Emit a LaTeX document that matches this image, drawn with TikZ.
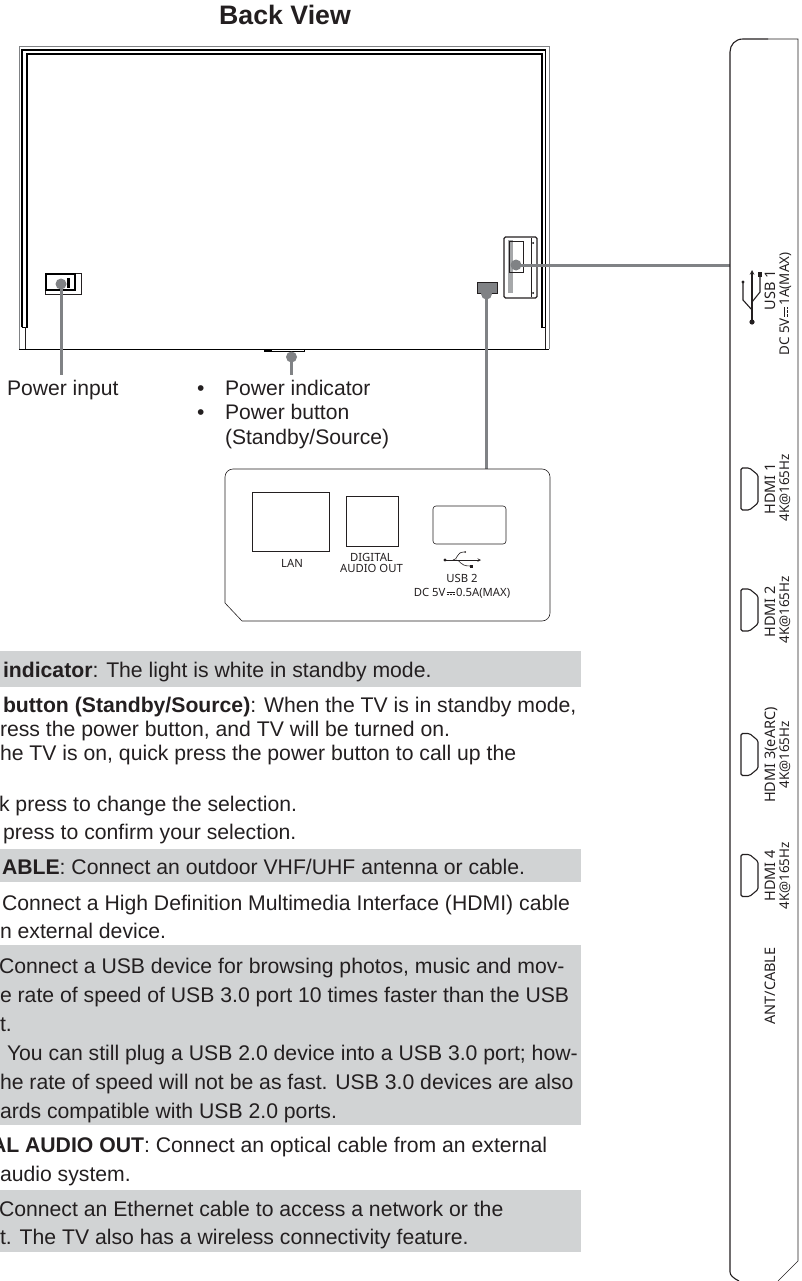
\documentclass[tikz,border=0pt]{standalone}
\usepackage{fontspec}
\setmainfont{Liberation Sans}
\newfontfamily\portfont{Noto Sans}
\definecolor{bandgrey}{HTML}{D1D3D4}
\definecolor{leadergrey}{HTML}{808285}
\definecolor{inkblack}{HTML}{231F20}
\newcommand{\dcsym}{\leavevmode\hspace{.1em}\rlap{\raisebox{.62ex}{\rule{.75em}{.05em}}}\raisebox{.25ex}{\rule{.2em}{.05em}\hspace{.075em}\rule{.2em}{.05em}\hspace{.075em}\rule{.2em}{.05em}}\hspace{.1em}}
\begin{document}
\begin{tikzpicture}[
        x=1pt, y=-1pt,
        every node/.style={inner sep=0pt, outer sep=0pt, text=inkblack},
        band/.style={fill=bandgrey, draw=none},
        body/.style={anchor=base west, font=\fontsize{21.2}{24}\selectfont},
        callout/.style={anchor=base west, font=\fontsize{21.1}{24}\selectfont},
        frameline/.style={draw=black, line width=1.3pt},
        thinline/.style={draw=inkblack, line width=0.6pt},
        outline/.style={draw=inkblack, line width=1pt},
        leader/.style={draw=leadergrey, line width=3pt},
        leaderdot/.style={circle, fill=leadergrey, minimum size=11pt},
        panellabel/.style={font=\portfont\fontsize{11.3}{12}\selectfont},
        sidelabel/.style={rotate=90, anchor=base, font=\portfont\fontsize{14.5}{15}\selectfont},
        ratelabel/.style={rotate=90, anchor=base, font=\portfont\fontsize{13.4}{14}\selectfont},
        hdmiport/.pic={
            \draw[line width=1.1pt, draw=inkblack, rounded corners=1.5pt]
                (-8.5,-21) -- (-8.5,21) -- (0,21) -- (8.5,14) -- (8.5,-14) -- (0,-21) -- cycle;
        }
    ]
    \useasboundingbox (0,0) rectangle (801,1281);

    % grey bands behind the text
    \fill[band] (0,651) rectangle (581,687);
    \fill[band] (0,849) rectangle (581,882);
    \fill[band] (0,945) rectangle (581,1125);
    \fill[band] (0,1190) rectangle (581,1252);

    % title
    \node[font=\bfseries\fontsize{26.7}{30}\selectfont, anchor=base] (title) at (285,25) {Back View};

    % back of the set
    \draw[draw=leadergrey, line width=1pt] (19,349) -- (19,46.5) -- (549,46.5) -- (549,349);
    \draw[frameline] (22,327) -- (22,50) -- (545.5,50) -- (545.5,327);
    \draw[draw=black, line width=2pt] (26.5,327) -- (26.5,54) -- (542,54) -- (542,327);
    \draw[draw=black, line width=1pt] (21.5,327) -- (27.5,327);
    \draw[draw=black, line width=1pt] (541,327) -- (546,327);
    \draw[draw=black, line width=1.6pt] (19,349.5) -- (549,349.5);
    \draw[thinline] (25,327) -- (25,349);
    \draw[thinline] (545,327) -- (545,349);
    \fill[black] (264,349) rectangle (305,351.5);
    \fill[white] (272,349.5) rectangle (304,350.5);

    % power input socket
    \draw[thinline] (45,273) rectangle (81,294);
    \draw[draw=black, line width=1.4pt, fill=white] (46,274) rectangle (75,290);
    \fill[black] (67,278) rectangle (70,288);

    % side connector block
    \draw[draw=inkblack, line width=1.3pt, rounded corners=1.5pt] (504,237) rectangle (537,298);
    \fill[leadergrey!70] (508,240) rectangle (513,293);
    \draw[thinline] (509,241) rectangle (523,272);
    \draw[thinline] (531,238) -- (531,297);
    \fill[black] (533,243) circle (1pt);
    \fill[black] (533,293) circle (1pt);

    % rear connector block
    \draw[draw=inkblack, line width=0.8pt, fill=leadergrey] (477,282) rectangle (497,293);

    % leaders
    \node[leaderdot] (powerdot) at (61,284) {};
    \node[leaderdot] (buttondot) at (291.5,357) {};
    \node[leaderdot] (reardot) at (486.5,294) {};
    \node[leaderdot] (sidedot) at (516,265) {};
    \coordinate (powerend) at (61,375);
    \coordinate (buttonend) at (291.5,375);
    \coordinate (rearpanel) at (486.5,469);
    \coordinate (sidepanel) at (730,265);
    \draw[leader] (powerdot.center) -- (powerend);
    \draw[leader] (buttondot.center) -- (buttonend);
    \draw[leader] (reardot.center) -- (rearpanel);
    \draw[leader] (sidedot.center) -- (sidepanel);

    \node[callout] (powerinput) at (7,395) {Power input};
    \node[callout] (bulletone) at (197,395) {•};
    \node[callout] (bullettwo) at (197,419) {•};
    \node[callout] (indicator) at (225,395) {Power indicator};
    \node[callout] (button) at (225,419) {Power button};
    \node[callout] (standby) at (225,444) {(Standby/Source)};

    % rear panel close-up
    \draw[thinline, rounded corners=8pt] (242,621) -- (550,621) -- (550,469) -- (225,469) -- (225,603);
    \draw[thinline] (225,603) -- (242,621);
    \draw[thinline] (252,492) rectangle (329,551);
    \draw[thinline] (346,496) rectangle (398,546);
    \draw[thinline, rounded corners=3pt] (433,506) rectangle (506,544);
    \node[panellabel] (lan) at (292,563) {LAN};
    \node[panellabel] (digital) at (371.5,557) {DIGITAL};
    \node[panellabel] (audioout) at (371.5,568) {AUDIO OUT};
    \node[panellabel, anchor=base] (usbtwo) at (462,582) {USB 2};
    \node[panellabel, anchor=base] (usbtwopower) at (462,596) {DC 5V\dcsym 0.5A(MAX)};
    \draw[thinline, -stealth] (445,560) -- (481,560);
    \draw[thinline] (453,560) .. controls (458,560) and (456,552) .. (464,552);
    \draw[thinline] (456,560) .. controls (461,560) and (459,566) .. (470,566);
    \fill[inkblack] (445,560) circle (1.7pt);
    \fill[inkblack] (465,552) circle (1pt);
    \fill[inkblack] (469.5,564.5) rectangle (472.5,567.5);

    % side panel close-up
    \draw[outline, line width=1.1pt] (739,1281) .. controls (733,1278) and (730,1275) .. (730,1272) -- (730,52)
        .. controls (730,45) and (735,39) .. (743,39) -- (768,39);
    \draw[thinline] (768,39) -- (798,39) -- (798,1261) -- (778,1281);
    \foreach \porty in {489,610,754.5,875.5} {
        \pic at (749.5,\porty) {hdmiport};
    }
    \node[sidelabel] (hdmione) at (775,489) {HDMI 1};
    \node[ratelabel] (hdmionerate) at (789,488) {4K@165Hz};
    \node[sidelabel] (hdmitwo) at (775,612) {HDMI 2};
    \node[ratelabel] (hdmitworate) at (789,610) {4K@165Hz};
    \node[sidelabel] (hdmithree) at (775,755) {HDMI 3(eARC)};
    \node[ratelabel] (hdmithreerate) at (789,755) {4K@165Hz};
    \node[sidelabel] (hdmifour) at (775,876) {HDMI 4};
    \node[ratelabel] (hdmifourrate) at (789,876) {4K@165Hz};
    \node[sidelabel] (antcable) at (775,986) {ANT/CABLE};
    \node[sidelabel] (usbone) at (775,290) {USB 1};
    \node[ratelabel] (usbonepower) at (789,304) {DC 5V\dcsym 1A(MAX)};
    \draw[draw=inkblack, line width=1.1pt, -stealth] (752,323) -- (752,270);
    \draw[draw=inkblack, line width=1.1pt] (752,310) -- (743,300) -- (743,282);
    \draw[draw=inkblack, line width=1.1pt] (752,302) -- (760,292) -- (760,276);
    \fill[inkblack] (752,322) circle (2.6pt);
    \fill[inkblack] (743,282) circle (1.6pt);
    \fill[inkblack] (758,272) rectangle (762,277);

    % text lines, cut off by the left edge
    \node[body] (lineone) at (3,677) {\textbf{indicator}: The light is white in standby mode.};
    \node[body] (linetwo) at (3,712) {\textbf{button (Standby/Source)}: When the TV is in standby mode,};
    \node[body] (linethree) at (0,736) {ress the power button, and TV will be turned on.};
    \node[body] (linefour) at (0,760) {he TV is on, quick press the power button to call up the};
    \node[body] (linefive) at (-1,811) {k press to change the selection.};
    \node[body] (linesix) at (3,839) {press to confirm your selection.};
    \node[body] (lineseven) at (2,874) {\textbf{ABLE}: Connect an outdoor VHF/UHF antenna or cable.};
    \node[body] (lineeight) at (2,910) {Connect a High Definition Multimedia Interface (HDMI) cable};
    \node[body] (linenine) at (0,938) {n external device.};
    \node[body] (lineten) at (-1,973) {Connect a USB device for browsing photos, music and mov-};
    \node[body] (lineeleven) at (0,1002) {e rate of speed of USB 3.0 port 10 times faster than the USB};
    \node[body] (linetwelve) at (0,1031) {t.};
    \node[body] (linethirteen) at (7,1060) {You can still plug a USB 2.0 device into a USB 3.0 port; how-};
    \node[body] (linefourteen) at (0,1089) {he rate of speed will not be as fast. USB 3.0 devices are also};
    \node[body] (linefifteen) at (0,1118) {ards compatible with USB 2.0 ports.};
    \node[body] (linesixteen) at (-9,1152) {\textbf{AL AUDIO OUT}: Connect an optical cable from an external};
    \node[body] (lineseventeen) at (0,1181) {audio system.};
    \node[body] (lineeighteen) at (-1,1216) {Connect an Ethernet cable to access a network or the};
    \node[body] (linenineteen) at (0,1244) {t. The TV also has a wireless connectivity feature.};
\end{tikzpicture}
\end{document}
